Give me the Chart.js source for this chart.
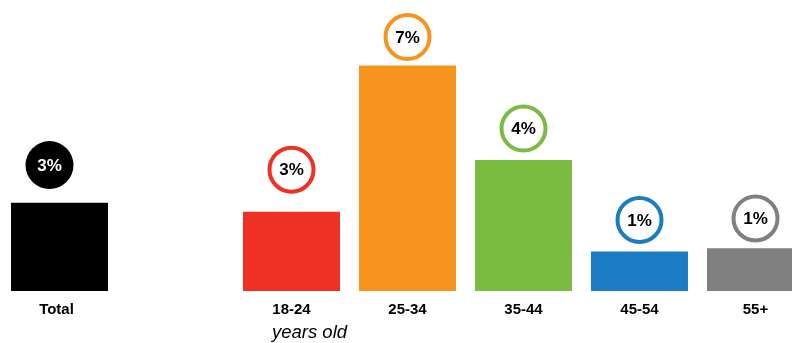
<!DOCTYPE html>
<html lang="en">
<head>
    <meta charset="UTF-8">
    <title>Share by age group</title>
    <style>
        html, body {
            margin: 0;
            padding: 0;
            background: #fff;
            overflow: hidden;
        }
        #wrap {
            width: 792px;
            height: 343px;
            overflow: hidden;
        }
        canvas {
            display: block;
        }
    </style>
    <script src="https://cdn.jsdelivr.net/npm/chart.js"></script>
</head>
<body>
    <div id="wrap">
        <canvas id="ageChart" width="816" height="343"></canvas>
    </div>
    <script>
        // categories (empty slot keeps the gap after "Total")
        const categories = ['Total', '', '18-24', '25-34', '35-44', '45-54', '55+'];
        // share in percent
        const shares = [2.9, null, 2.6, 7.4, 4.3, 1.3, 1.4];
        const barColors = ['#000000', '#ffffff', '#ee3124', '#f7941d', '#7cbb42', '#1a7dc4', '#808080'];
        const subLabel = 'years old';

        const fontFamily = "'Liberation Sans', Arial, Helvetica, sans-serif";

        // draws the round badges, the category names and the "years old" note
        const badgePlugin = {
            id: 'badges',
            afterDatasetsDraw(chart) {
                const ctx = chart.ctx;
                const meta = chart.getDatasetMeta(0);
                const xScale = chart.scales.x;
                const yScale = chart.scales.y;

                ctx.save();
                meta.data.forEach((bar, i) => {
                    const v = shares[i];
                    if (v === null) return;
                    let cx = bar.x;
                    if (i === 0) cx -= 10; // the total badge sits a little left
                    // badge floats between the bar top and the rounded value
                    const level = (bar.y + yScale.getPixelForValue(Math.round(v))) / 2;
                    const cy = Math.max(level - 36, 37);
                    const filled = i === 0;

                    ctx.beginPath();
                    ctx.arc(cx, cy, filled ? 24 : 22, 0, Math.PI * 2);
                    if (filled) {
                        ctx.fillStyle = barColors[i];
                        ctx.fill();
                    } else {
                        ctx.fillStyle = '#fff';
                        ctx.fill();
                        ctx.lineWidth = 4;
                        ctx.strokeStyle = barColors[i];
                        ctx.stroke();
                    }

                    ctx.fillStyle = filled ? '#fff' : '#000';
                    ctx.font = 'bold 17px ' + fontFamily;
                    ctx.textAlign = 'center';
                    ctx.textBaseline = 'middle';
                    ctx.fillText(Math.round(v) + '%', cx, cy + 1);
                });

                // category names under the bars
                categories.forEach((name, i) => {
                    if (!name) return;
                    const x = xScale.getPixelForValue(i);
                    ctx.fillStyle = '#000';
                    ctx.font = 'bold 15px ' + fontFamily;
                    ctx.textAlign = 'center';
                    ctx.textBaseline = 'middle';
                    ctx.fillText(name, i === 0 ? x - 3 : x, 310);
                });

                const x18 = xScale.getPixelForValue(2);
                ctx.font = 'italic 18.5px ' + fontFamily;
                ctx.textBaseline = 'alphabetic';
                ctx.fillText(subLabel, x18 + 18, 338);
                ctx.restore();
            }
        };

        const ctx = document.getElementById('ageChart').getContext('2d');
        new Chart(ctx, {
            type: 'bar',
            data: {
                labels: categories,
                datasets: [{
                    data: shares,
                    backgroundColor: barColors,
                    borderWidth: 0,
                    barPercentage: 0.836,
                    categoryPercentage: 1.0
                }]
            },
            options: {
                responsive: false,
                animation: false,
                events: [],
                layout: {
                    padding: { left: 1.5, right: 2.5, top: 0, bottom: 52 }
                },
                plugins: {
                    legend: { display: false },
                    tooltip: { enabled: false }
                },
                scales: {
                    x: { display: false },
                    y: { display: false, min: 0, max: 9.55 }
                }
            },
            plugins: [badgePlugin]
        });
    </script>
</body>
</html>
